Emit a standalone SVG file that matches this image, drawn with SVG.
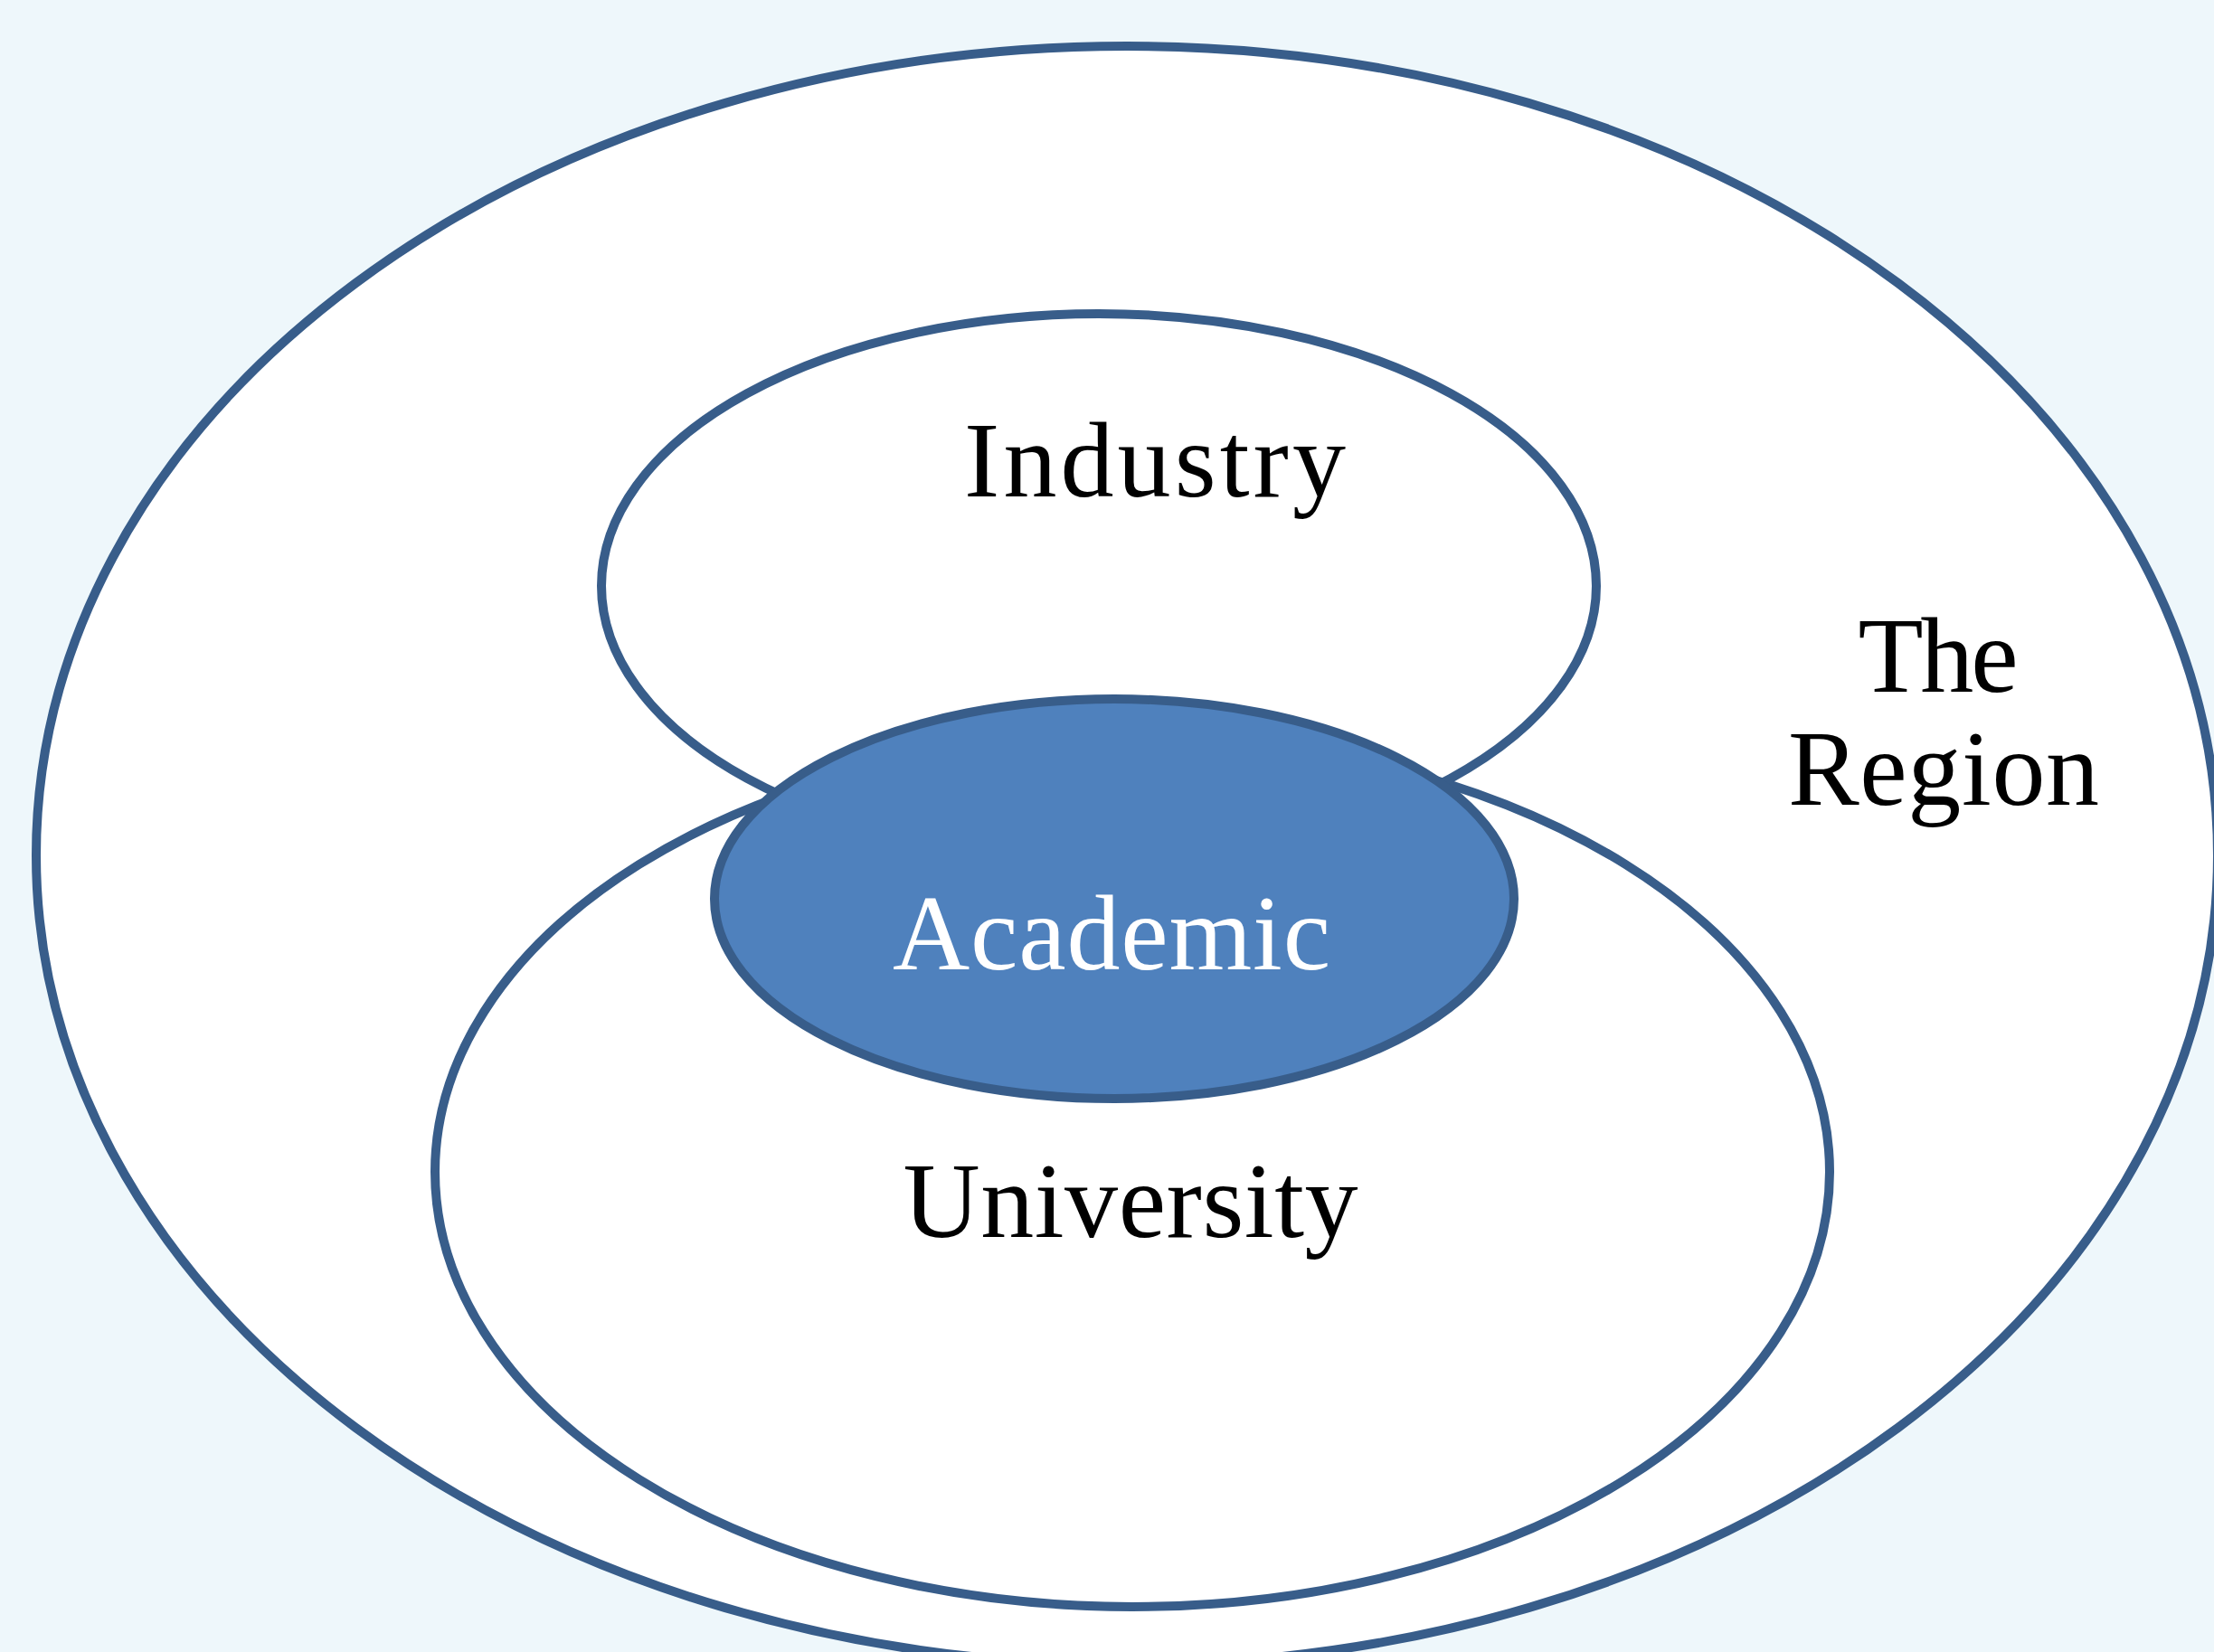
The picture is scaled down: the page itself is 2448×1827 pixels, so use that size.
<svg xmlns="http://www.w3.org/2000/svg" width="2448" height="1827" viewBox="0 0 2448 1827">
<style>
.ring{fill:#ffffff;stroke:#385D8A;stroke-width:10}
.core{fill:#4F81BD;stroke:#385D8A;stroke-width:10}
.lbl{font-family:"Liberation Serif","Times New Roman",serif;font-size:118px;fill:#000000;text-anchor:middle}
.lblw{font-family:"Liberation Serif","Times New Roman",serif;font-size:118px;fill:#ffffff;text-anchor:middle}
</style>
<rect x="0" y="0" width="2448" height="1827" fill="#EEF7FB"/>
<g id="region">
<ellipse class="ring" cx="1246" cy="946" rx="1206" ry="895"/>
<text class="lbl" x="2143" y="765" textLength="177" lengthAdjust="spacing">The</text>
<text class="lbl" x="2149" y="890" textLength="344" lengthAdjust="spacing">Region</text>
</g>
<g id="industry">
<ellipse class="ring" cx="1215" cy="648" rx="550" ry="301"/>
<text class="lbl" x="1277" y="549" textLength="422" lengthAdjust="spacing">Industry</text>
</g>
<g id="university">
<ellipse class="ring" cx="1252" cy="1296" rx="771" ry="481"/>
<text class="lbl" x="1250" y="1368" textLength="503" lengthAdjust="spacing">University</text>
</g>
<g id="academic">
<ellipse class="core" cx="1232" cy="994" rx="442" ry="221"/>
<text class="lblw" x="1229" y="1072" textLength="484" lengthAdjust="spacing">Academic</text>
</g>
<g id="connectors"></g>
</svg>
